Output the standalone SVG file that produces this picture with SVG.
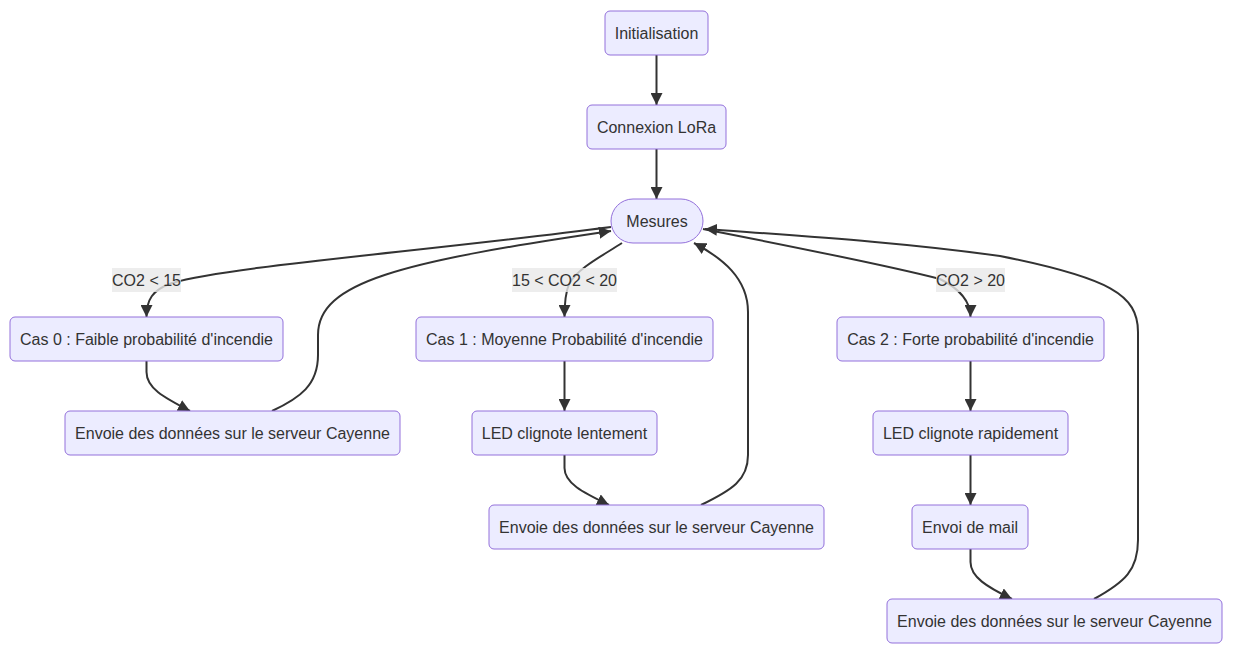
<svg xmlns="http://www.w3.org/2000/svg" width="1237" height="662" viewBox="0 0 1237 662">
<style>
.node rect{fill:#ECECFF;stroke:#9370DB;stroke-width:1px}
.node text,.lbl text{font-family:"Liberation Sans",Arial,sans-serif;font-size:16px;fill:#333;text-anchor:middle;dominant-baseline:central}
.edge path{fill:none;stroke:#333;stroke-width:2px;marker-end:url(#arrow)}
.lbl rect{fill:#e8e8e8;fill-opacity:0.8}
</style>
<defs>
<marker id="arrow" viewBox="0 0 10 10" refX="10" refY="5" markerUnits="userSpaceOnUse" markerWidth="12" markerHeight="12" orient="auto">
<path d="M0,0 L10,5 L0,10 z" fill="#333"/>
</marker>
</defs>
<rect width="1237" height="662" fill="#fff"/>
<g id="connectors" class="edge">
<path d="M656.5,55 L656.5,105"/>
<path d="M656.5,149 L656.5,199"/>
<path d="M611,227 C420,252 230,266 172,283 C152,290 146.5,300 146.5,317"/>
<path d="M622,243 C602,256 578,268 569,284 C565,294 564.5,304 564.5,317"/>
<path d="M703,229 C800,248 890,266 940,279 C958,288 970.5,300 970.5,317"/>
<path d="M146.5,361 L146.5,372 C146.5,388 163,397 190,411"/>
<path d="M272,411 C300,398 318,385 318,355 L318,335 C318,282 400,262 611,231"/>
<path d="M564.5,361 L564.5,411"/>
<path d="M564.5,455 L564.5,468 C564.5,483 582,492 609,505"/>
<path d="M701,505 C732,490 748,480 748,455 L748,312 C748,278 722,258 694,243"/>
<path d="M970.5,361 L970.5,411"/>
<path d="M970.5,455 L970.5,505"/>
<path d="M970.5,549 L970.5,562 C970.5,577 987,587 1012,599"/>
<path d="M1094,599 C1125,582 1138,570 1138,540 L1138,332 C1138,295 1110,278 1000,256 C900,242 800,236 705,229"/>
</g>
<g id="edge-labels" class="lbl">
<g id="lbl-co2-15"><rect x="112" y="268" width="69" height="24"/><text x="146.5" y="280">CO2 &lt; 15</text></g>
<g id="lbl-co2-15-20"><rect x="512" y="268" width="105" height="24"/><text x="564.5" y="280">15 &lt; CO2 &lt; 20</text></g>
<g id="lbl-co2-20"><rect x="936" y="268" width="69" height="24"/><text x="970.5" y="280">CO2 &gt; 20</text></g>
</g>
<g id="init" class="node"><rect x="605" y="11" width="103" height="44" rx="5"/><text x="656.5" y="33">Initialisation</text></g>
<g id="lora" class="node"><rect x="587" y="105" width="139" height="44" rx="5"/><text x="656.5" y="127">Connexion LoRa</text></g>
<g id="mesures" class="node"><rect x="611" y="199" width="92" height="44" rx="22"/><text x="657" y="221">Mesures</text></g>
<g id="cas0" class="node"><rect x="10" y="317" width="273" height="44" rx="5"/><text x="146.5" y="339">Cas 0 : Faible probabilité d'incendie</text></g>
<g id="env0" class="node"><rect x="65" y="411" width="335" height="44" rx="5"/><text x="232.5" y="433">Envoie des données sur le serveur Cayenne</text></g>
<g id="cas1" class="node"><rect x="416" y="317" width="297" height="44" rx="5"/><text x="564.5" y="339">Cas 1 : Moyenne Probabilité d'incendie</text></g>
<g id="led1" class="node"><rect x="472" y="411" width="185" height="44" rx="5"/><text x="564.5" y="433">LED clignote lentement</text></g>
<g id="env1" class="node"><rect x="489" y="505" width="335" height="44" rx="5"/><text x="656.5" y="527">Envoie des données sur le serveur Cayenne</text></g>
<g id="cas2" class="node"><rect x="837" y="317" width="267" height="44" rx="5"/><text x="970.5" y="339">Cas 2 : Forte probabilité d'incendie</text></g>
<g id="led2" class="node"><rect x="873" y="411" width="195" height="44" rx="5"/><text x="970.5" y="433">LED clignote rapidement</text></g>
<g id="mail" class="node"><rect x="912" y="505" width="116" height="44" rx="5"/><text x="970" y="527">Envoi de mail</text></g>
<g id="env2" class="node"><rect x="887" y="599" width="335" height="44" rx="5"/><text x="1054.5" y="621">Envoie des données sur le serveur Cayenne</text></g>
</svg>
